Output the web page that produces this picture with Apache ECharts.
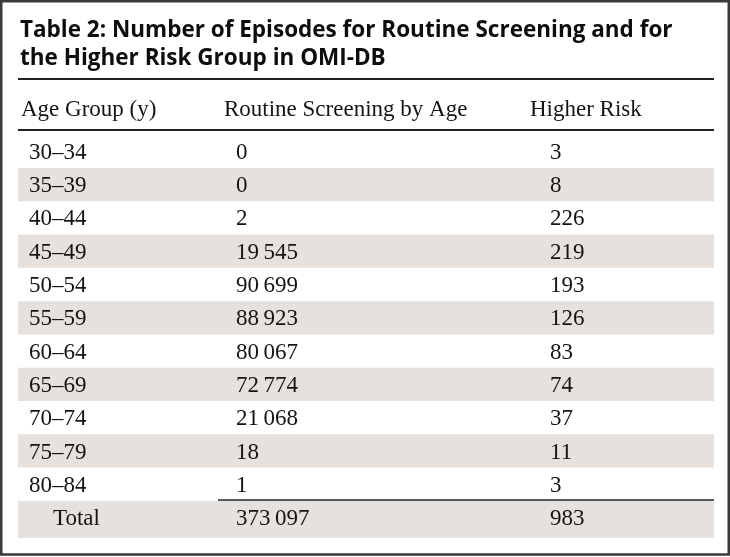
<!DOCTYPE html>
<html><head><meta charset="utf-8">
<script src="https://cdn.jsdelivr.net/npm/echarts@6/dist/echarts.min.js"></script>
<style>html,body{margin:0;padding:0;background:#fff}#c{width:730px;height:557px}</style>
</head><body><div id="c"></div>
<script>
// ---- data ----
const titleText = 'Table 2: Number of Episodes for Routine Screening and for\nthe Higher Risk Group in OMI-DB';
const headers = ['Age Group (y)', 'Routine Screening by Age', 'Higher Risk'];
const ageGroups = ['30–34', '35–39', '40–44', '45–49', '50–54', '55–59', '60–64', '65–69', '70–74', '75–79', '80–84', 'Total'];
const routineScreening = [0, 0, 2, 19545, 90699, 88923, 80067, 72774, 21068, 18, 1, 373097];
const higherRisk = [3, 8, 226, 219, 193, 126, 83, 74, 37, 11, 3, 983];

// ---- layout / style ----
const ROW_TOP = 134.7, ROW_H = 33.29;
const COL_X = [29, 236, 550];
const HEAD_X = [21, 224, 530];
const TOTAL_X = 53;
const BAND_X0 = 18, BAND_X1 = 714;
const TOTAL_EXTRA = 3.7;
const TEXT_DY = 1.5;
const BAND = '#e7e1dd';
const INK = '#141414';
const SERIF = '23px "Liberation Serif", "Times New Roman", serif';

function fmt(n) {
  const s = String(n);
  if (n < 10000) return s;
  return s.replace(/\B(?=(\d{3})+(?!\d))/g, '\u2009');
}

const chart = echarts.init(document.getElementById('c'), null, {renderer: 'canvas'});
const nRows = ageGroups.length;

chart.setOption({
  animation: false,
  backgroundColor: '#ffffff',
  title: {
    text: titleText,
    left: 20, top: 16.5, padding: 0,
    textStyle: {fontFamily: 'Open Sans', fontWeight: 'bold', fontSize: 22.5, lineHeight: 28, color: '#0d0d0d'}
  },
  grid: {left: 0, right: 0, top: ROW_TOP, height: nRows * ROW_H},
  xAxis: {type: 'value', min: 0, max: 730, show: false},
  yAxis: {type: 'value', min: -0.5, max: nRows - 0.5, inverse: true, show: false},
  graphic: [
    {type: 'rect', shape: {x: 1.25, y: 1.25, width: 727.5, height: 553.25},
     style: {fill: null, stroke: '#3a3a3a', lineWidth: 2.5}, z: 100},
    {type: 'line', shape: {x1: BAND_X0, y1: 79, x2: BAND_X1, y2: 79}, style: {stroke: '#222', lineWidth: 2}},
    {type: 'line', shape: {x1: BAND_X0, y1: 130, x2: BAND_X1, y2: 130}, style: {stroke: '#222', lineWidth: 2}},
    {type: 'line', shape: {x1: 218, y1: 500, x2: BAND_X1, y2: 500}, style: {stroke: '#222', lineWidth: 1.5}, z: 100},
    ...headers.map((h, k) => ({
      type: 'text', x: HEAD_X[k], y: 108 + TEXT_DY,
      style: {text: h, font: SERIF, fill: INK, align: 'left', verticalAlign: 'middle'}
    }))
  ],
  series: [{
    type: 'custom',
    clip: false,
    data: ageGroups.map((g, i) => [i]),
    renderItem: function (params, api) {
      const i = api.value(0);
      const top = api.coord([0, i - 0.5])[1];
      const bot = api.coord([0, i + 0.5])[1];
      const x0 = api.coord([BAND_X0, i])[0];
      const x1 = api.coord([BAND_X1, i])[0];
      const isTotal = i === nRows - 1;
      const children = [];
      if (i % 2 === 1) {
        children.push({type: 'rect', shape: {x: x0, y: top, width: x1 - x0, height: bot - top + (isTotal ? TOTAL_EXTRA : 0)},
          style: {fill: BAND}});
      }
      const texts = [ageGroups[i], fmt(routineScreening[i]), fmt(higherRisk[i])];
      texts.forEach((t, c) => {
        const xv = (c === 0 && isTotal) ? TOTAL_X : COL_X[c];
        const p = api.coord([xv, i]);
        children.push({type: 'text', x: p[0], y: p[1] + TEXT_DY,
          style: {text: t, font: SERIF, fill: INK, align: 'left', verticalAlign: 'middle'}});
      });
      return {type: 'group', children: children};
    }
  }]
});
</script>
</body></html>
